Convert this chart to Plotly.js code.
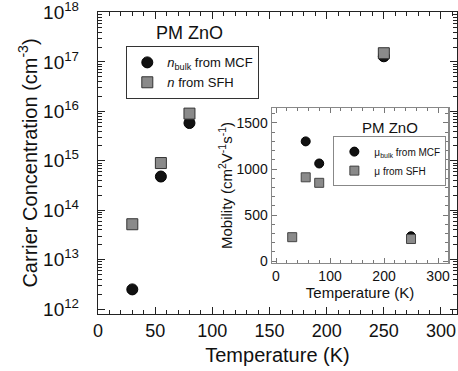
<!DOCTYPE html>
<html><head><meta charset="utf-8">
<script src="https://cdn.plot.ly/plotly-3.0.1.min.js"></script>
<style>body{margin:0;padding:0;background:#fff}#chart{width:458px;height:371px}</style>
</head><body><div id="chart"></div>
<script>
// Main plot: carrier concentration
const tempMain = [30, 55, 80, 250];
const nBulkMCF = [2.5e12, 4.8e14, 5.8e15, 1.3e17];
const nSFH = [5.2e13, 9.0e14, 9.0e15, 1.5e17];
// Inset: mobility
const tempBulk = [55, 80, 250];
const muBulkMCF = [1300, 1060, 270];
const tempSFH = [30, 55, 80, 250];
const muSFH = [260, 910, 850, 240];
// y-axis decade ticks and labels
const decades = [1e12, 1e13, 1e14, 1e15, 1e16, 1e17, 1e18];
const decadeLabels = ['10<sup>12</sup>', '10<sup>13</sup>', '10<sup>14</sup>', '10<sup>15</sup>', '10<sup>16</sup>', '10<sup>17</sup>', '10<sup>18</sup>'];
const minorDigits = [2, 3, 4, 5, 6, 7, 8, 9];

const minorLog = [];
decades.slice(0, -1).forEach(d => minorDigits.forEach(m => minorLog.push(d * m)));

const F = 'Liberation Sans, Arial, sans-serif';
const traces = [
  {x: tempMain, y: nBulkMCF, type: 'scatter', mode: 'markers', name: '<i>n</i><sub>bulk</sub> from MCF',
   marker: {symbol: 'circle', size: 11, color: '#111', line: {color: '#000', width: 1}}, xaxis: 'x', yaxis: 'y', legend: 'legend'},
  {x: tempMain, y: nSFH, type: 'scatter', mode: 'markers', name: '<i>n</i> from SFH',
   marker: {symbol: 'square', size: 11, color: '#8a8a8a', line: {color: '#333', width: 1}}, xaxis: 'x', yaxis: 'y', legend: 'legend'},
  {x: tempBulk, y: muBulkMCF, type: 'scatter', mode: 'markers', name: 'μ<sub>bulk</sub> from MCF',
   marker: {symbol: 'circle', size: 9, color: '#111', line: {color: '#000', width: 1}}, xaxis: 'x2', yaxis: 'y2', legend: 'legend2'},
  {x: tempSFH, y: muSFH, type: 'scatter', mode: 'markers', name: 'μ from SFH',
   marker: {symbol: 'square', size: 9, color: '#8a8a8a', line: {color: '#444', width: 1}}, xaxis: 'x2', yaxis: 'y2', legend: 'legend2'}
];

const layout = {
  width: 458, height: 371,
  margin: {l: 98, r: 1, t: 12, b: 57},
  paper_bgcolor: '#fff', plot_bgcolor: '#fff',
  font: {family: F, color: '#111'},
  showlegend: true,
  xaxis: {domain: [0, 1], range: [0, 314], tickvals: [0, 50, 100, 150, 200, 250, 300],
    ticks: 'inside', ticklen: 7, tickcolor: '#222', showline: true, linecolor: '#222', linewidth: 1.2, mirror: 'allticks',
    minor: {dtick: 10, ticks: 'inside', ticklen: 4, tickcolor: '#222'},
    showgrid: false, zeroline: false, tickfont: {size: 18, family: F},
    title: {text: 'Temperature (K)', font: {size: 20, family: F}, standoff: 8}},
  yaxis: {domain: [0, 1], type: 'log', range: [11.9, 18.01], tickvals: decades, ticktext: decadeLabels,
    ticks: 'inside', ticklen: 7, tickcolor: '#222', showline: true, linecolor: '#222', linewidth: 1.2, mirror: 'allticks',
    minor: {tickvals: minorLog, ticks: 'inside', ticklen: 4, tickcolor: '#222'},
    showgrid: false, zeroline: false, tickfont: {size: 19, family: F}, ticklabelstandoff: 14, ticklabeloverflow: 'allow',
    title: {text: 'Carrier Concentration (cm<sup>-3</sup>)', font: {size: 20, family: F}, standoff: 0}},
  xaxis2: {domain: [0.4847, 0.975], anchor: 'y2', range: [-7.4, 318.5], tickvals: [0, 100, 200, 300],
    ticks: 'inside', ticklen: 5, tickcolor: '#777', showline: true, linecolor: '#888', linewidth: 1.5, mirror: 'allticks',
    minor: {dtick: 20, ticks: 'inside', ticklen: 3, tickcolor: '#777'},
    showgrid: false, zeroline: false, tickfont: {size: 14, family: F},
    title: {text: 'Temperature (K)', font: {size: 15, family: F}, standoff: 2}},
  yaxis2: {domain: [0.169, 0.682], anchor: 'x2', range: [-20, 1662], tickvals: [0, 500, 1000, 1500],
    ticks: 'inside', ticklen: 5, tickcolor: '#777', showline: true, linecolor: '#888', linewidth: 1.5, mirror: 'allticks',
    minor: {dtick: 100, ticks: 'inside', ticklen: 3, tickcolor: '#777'},
    showgrid: false, zeroline: false, tickfont: {size: 14, family: F},
    title: {text: 'Mobility (cm<sup>2</sup>V<sup>-1</sup>s<sup>-1</sup>)', font: {size: 15, family: F}, standoff: 0}},
  legend: {x: 0.078, y: 0.887, xanchor: 'left', yanchor: 'top', bgcolor: '#fff', bordercolor: '#333', borderwidth: 1.3,
    font: {size: 13, family: F}, itemwidth: 30, tracegroupgap: 0},
  legend2: {x: 0.813, y: 0.589, xanchor: 'center', yanchor: 'top', bgcolor: '#fff', bordercolor: '#888', borderwidth: 1,
    font: {size: 10, family: F}, itemwidth: 30, tracegroupgap: 0},
  annotations: [
    {xref: 'paper', yref: 'paper', x: 0.256, y: 0.93, text: 'PM ZnO', showarrow: false, font: {size: 18, family: F, color: '#111'}, xanchor: 'center', yanchor: 'middle'},
    {xref: 'paper', yref: 'paper', x: 0.813, y: 0.619, text: 'PM ZnO', showarrow: false, font: {size: 15, family: F, color: '#111'}, xanchor: 'center', yanchor: 'middle'}
  ]
};
Plotly.newPlot('chart', traces, layout, {displayModeBar: false, staticPlot: true});
</script></body></html>
